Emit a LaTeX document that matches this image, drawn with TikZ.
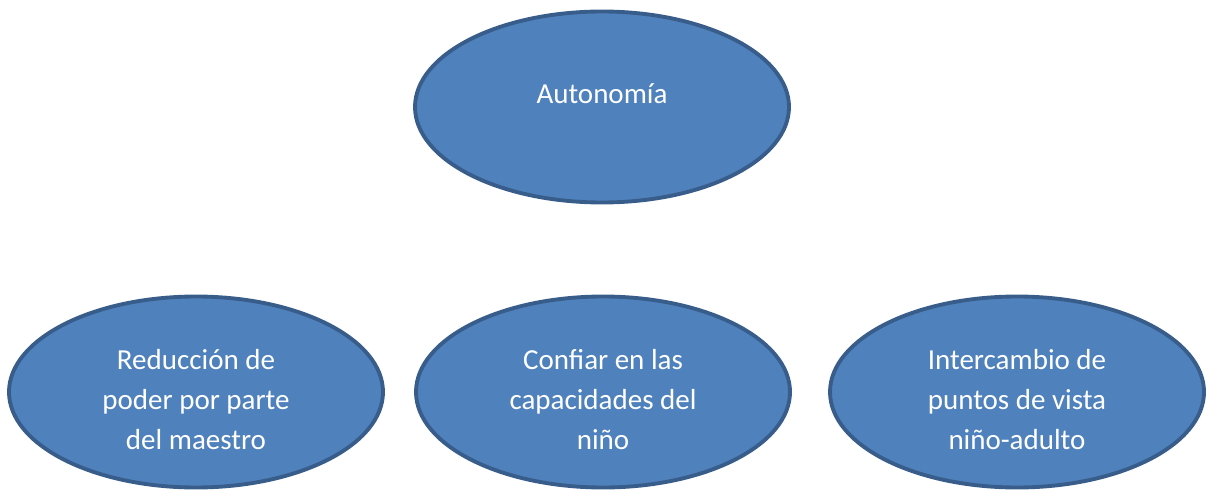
\documentclass[tikz,border=0pt]{standalone}
\usepackage{fontspec}
\setmainfont{Carlito}
\usetikzlibrary{shapes.geometric,positioning}
\definecolor{ovalfill}{HTML}{4F81BD}
\definecolor{ovaledge}{HTML}{385D8A}

\begin{document}
\begin{tikzpicture}
\tikzset{oval/.style={ellipse, draw=ovaledge, fill=ovalfill, line width=2.2pt, inner sep=0pt, minimum width=7.48cm, minimum height=3.82cm},
  ovaltext/.style={text=white, align=center, font=\fontsize{16.5}{23}\selectfont}}
\useasboundingbox (0,0) rectangle (24.14,-9.82);
\node [oval] (auto) at (12.04,-2.14) {};
\node [oval] (red) at (3.92,-7.84) {};
\node [oval] (conf) at (12.06,-7.84) {};
\node [oval] (inter) at (20.34,-7.84) {};
\node [ovaltext] (autot) at ([yshift=0.26cm]auto.center) {Autonomía};
\node [ovaltext] (redt) at ([yshift=-0.15cm]red.center) {Reducción de\\poder por parte\\del maestro};
\node [ovaltext] (conft) at ([yshift=-0.15cm]conf.center) {Confiar en las\\capacidades del\\niño};
\node [ovaltext] (intert) at ([yshift=-0.15cm]inter.center) {Intercambio de\\puntos de vista\\niño-adulto};
\end{tikzpicture}
\end{document}
